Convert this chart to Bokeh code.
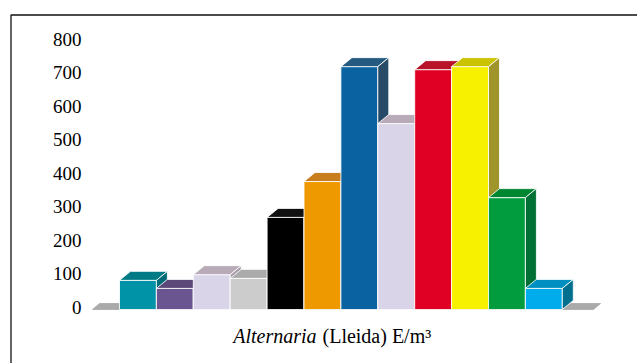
from bokeh.plotting import figure
from bokeh.models import Range1d, ColumnDataSource
from bokeh.core.properties import value
from bokeh.embed import file_html
from bokeh.resources import INLINE

# Monthly Alternaria spore concentration (E/m3)
months = ["Gen", "Feb", "Mar", "Abr", "Mai", "Jun", "Jul", "Ago", "Set", "Oct", "Nov", "Des"]
counts = [87, 63, 104, 93, 275, 382, 725, 555, 716, 725, 334, 63]

front_colors = ["#0093A7", "#6B5590", "#DAD4E8", "#CCCCCC", "#000000", "#EE9900",
                "#0A63A0", "#DAD4E8", "#E00024", "#F7F100", "#009C3E", "#00ACEC"]
top_colors = ["#007B86", "#5C4878", "#B8AAB6", "#ABABAB", "#111111", "#C97E1E",
              "#245A80", "#B8AAB6", "#B8142A", "#CBC200", "#008530", "#008FC0"]
side_colors = ["#006B78", "#50406A", "#A99BA7", "#999999", "#000000", "#A8661A",
               "#274A68", "#A99BA7", "#98142A", "#A0952A", "#007035", "#00708E"]

y_ticks = [0, 100, 200, 300, 400, 500, 600, 700, 800]
y_tick_labels = [str(t) for t in y_ticks]

SERIF = value("Liberation Serif")
TICK_FONT_SIZE = "19px"
CAPTION_FONT_SIZE = "20px"

W, H = 637, 363
BAR_PX = 36.9        # width of one bar in pixels
X0_PX = 119.0        # left edge of the first bar
Y0_PX = 309.0        # screen row of value 0 on the front plane
PX_PER_UNIT = 0.335  # pixels per E/m3


def xd(px):
    return (px - X0_PX) / BAR_PX


def yd(py):
    return (Y0_PX - py) / PX_PER_UNIT


DX = 11.0 / BAR_PX
DY = 9.0 / PX_PER_UNIT

p = figure(width=W, height=H,
           x_range=Range1d(xd(0), xd(W)), y_range=Range1d(yd(H), yd(0)),
           output_backend="svg", toolbar_location=None, min_border=0,
           x_axis_location=None, y_axis_location=None,
           outline_line_color=None, background_fill_color="white",
           border_fill_color="white")
p.grid.visible = False

# floor slab
fx0, fx1 = xd(92), xd(593)
fdx, fdy = 7.0 / BAR_PX, 6.0 / PX_PER_UNIT
xs = [[fx0, fx1, fx1 + fdx, fx0 + fdx]]
ys = [[0, 0, fdy, fdy]]
fills = ["#AAAAAA"]
lines = ["#AAAAAA"]

# 3D bars: front, top and side faces drawn left to right
for i, v in enumerate(counts):
    x0, x1 = i, i + 1
    xs.append([x0, x1, x1, x0])
    ys.append([0, 0, v, v])
    fills.append(front_colors[i])
    lines.append("white")
    xs.append([x0, x1, x1 + DX, x0 + DX])
    ys.append([v, v, v + DY, v + DY])
    fills.append(top_colors[i])
    lines.append("white")
    xs.append([x1, x1 + DX, x1 + DX, x1])
    ys.append([0, DY, v + DY, v])
    fills.append(side_colors[i])
    lines.append("white")

src = ColumnDataSource(dict(xs=xs, ys=ys, fill=fills, line=lines))
p.patches("xs", "ys", source=src, fill_color="fill", line_color="line",
          line_width=1, line_alpha=0.85)

# value axis labels
p.text(x=[xd(81)] * len(y_ticks), y=[t + 2.5 / PX_PER_UNIT for t in y_ticks],
       text=y_tick_labels, text_align="right", text_baseline="middle",
       text_font=SERIF, text_font_size=TICK_FONT_SIZE, text_color="black")

# caption under the bars
p.text(x=[xd(316)], y=[yd(335)], text=["Alternaria"], text_align="right",
       text_baseline="middle", text_font=SERIF,
       text_font_style="italic", text_font_size=CAPTION_FONT_SIZE, text_color="black")
p.text(x=[xd(322)], y=[yd(335)], text=["(Lleida) E/m\u00b3"], text_align="left",
       text_baseline="middle", text_font=SERIF,
       text_font_size=CAPTION_FONT_SIZE, text_color="black")

# chart frame
p.line([xd(10.5), xd(10.5), xd(W + 5)], [yd(H + 5), yd(14.5), yd(14.5)],
       line_color="#111111", line_width=1.3)

open("out.html", "w").write(file_html(p, INLINE))
